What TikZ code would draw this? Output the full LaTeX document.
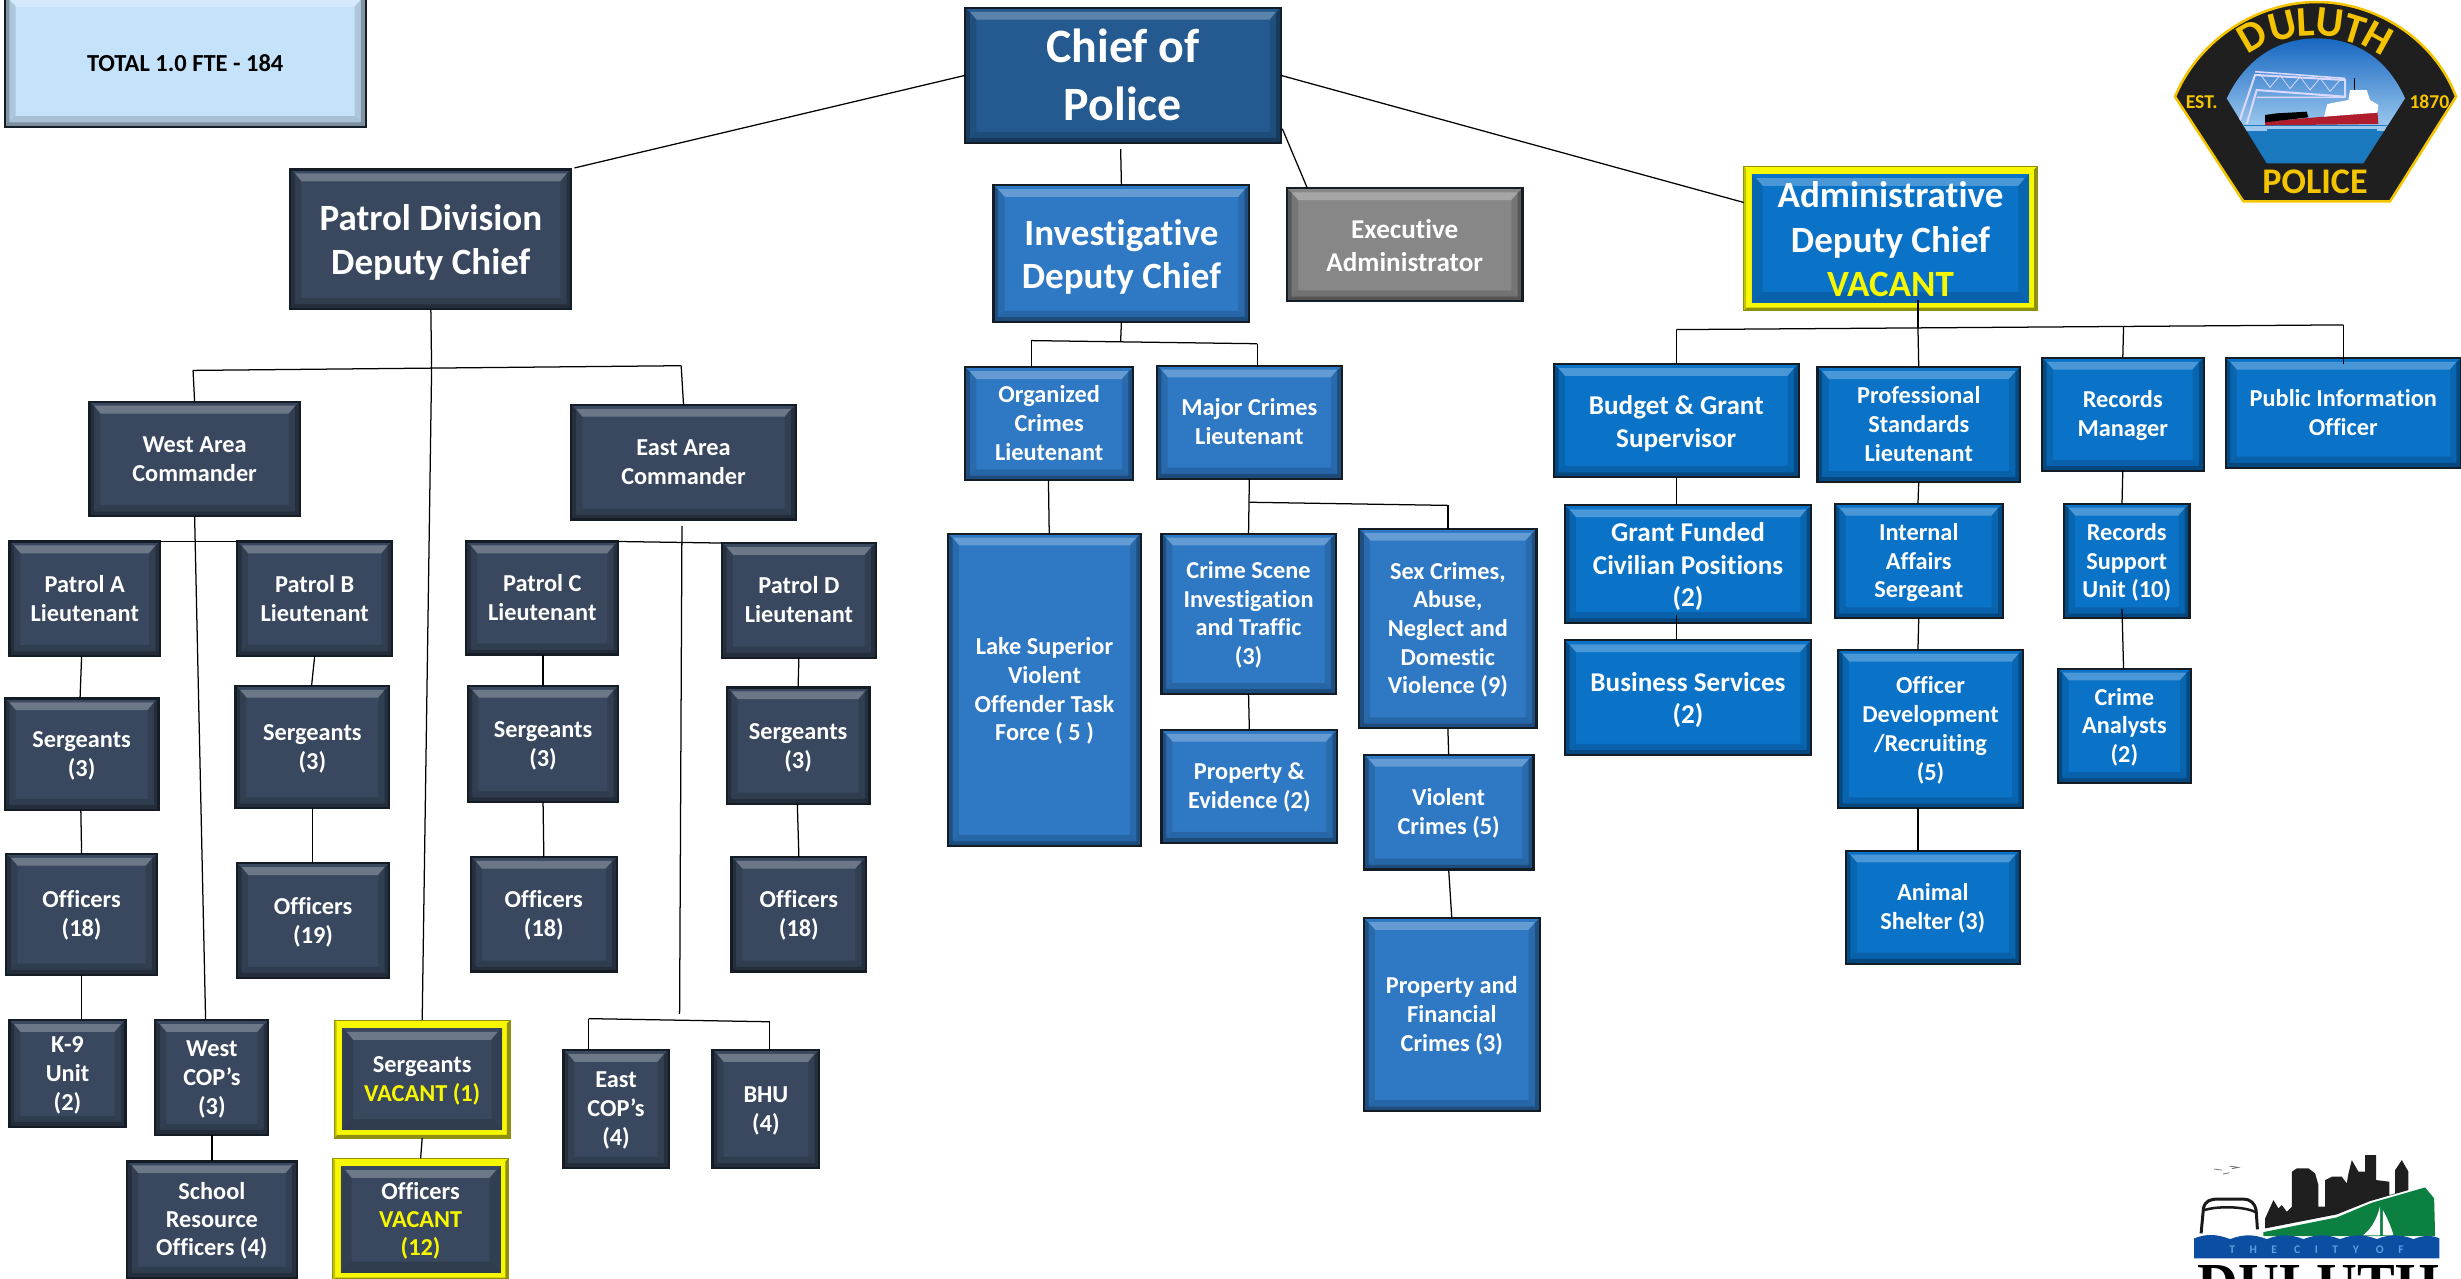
\documentclass[tikz,border=0pt]{standalone}
\usepackage{fontspec}
\setmainfont[Ligatures=CommonOff]{Carlito}
\newfontfamily\logospaced[LetterSpace=125]{Carlito}
\newfontfamily\logoserif{Liberation Serif}
\definecolor{navyfill}{HTML}{39485E}
\definecolor{bluefill}{HTML}{2F79C4}
\definecolor{chieffill}{HTML}{245A8F}
\definecolor{adminfill}{HTML}{0A73C8}
\definecolor{greyfill}{HTML}{878787}
\definecolor{lightfill}{HTML}{C5E2FB}
\definecolor{vacyellow}{HTML}{F7F700}
\definecolor{vacedge}{HTML}{8F8F10}
\definecolor{edgedark}{HTML}{141C26}
\definecolor{badgegold}{HTML}{F5C400}
\definecolor{logoblue}{HTML}{0B4EA2}
\definecolor{logogreen}{HTML}{0B8040}
\definecolor{logotext}{HTML}{5AA0E0}
\definecolor{hullred}{HTML}{B01E2E}
\definecolor{skytop}{HTML}{1565C0}
\definecolor{skylow}{HTML}{9CC8EE}
\definecolor{water}{HTML}{1A78BE}
\def\bvinset{0}
\def\bvtext{white}
\def\bvdrop{1.4}
\tikzset{
  orgbox/.style={rectangle,inner sep=0pt,outer sep=0pt,draw=edgedark,line width=1.4pt,align=center},
  vacframe/.style={draw=vacedge,line width=.8pt},
  navybox/.style={/utils/exec={\colorlet{bvfill}{navyfill}}},
  bluebox/.style={/utils/exec={\colorlet{bvfill}{bluefill}}},
  chiefbox/.style={/utils/exec={\colorlet{bvfill}{chieffill}}},
  adminbox/.style={/utils/exec={\colorlet{bvfill}{adminfill}}},
  greybox/.style={/utils/exec={\colorlet{bvfill}{greyfill}}},
  lightbox/.style={/utils/exec={\colorlet{bvfill}{lightfill}\def\bvtext{black}\def\bvdrop{3}}},
  vacnavy/.style={/utils/exec={\colorlet{bvfill}{navyfill}\def\bvinset{5}}},
  vacblue/.style={/utils/exec={\colorlet{bvfill}{adminfill}\def\bvinset{5}}},
  conn/.style={draw=black,line width=.8pt},
  badgeletter/.style={text=badgegold,inner sep=0pt,font=\fontsize{27}{27}\selectfont\bfseries}
}
\newcommand\vac[1]{\textcolor{vacyellow}{#1}}
% \bx[style]{name}{x1}{y1}{x2}{y2}{size}{leading}{text}
\newcommand\bx[9][navybox]{%
  \begin{scope}
  \tikzset{#1}%
  \ifdim #7pt>20pt \def\bvdrop{3}\fi
  \ifdim #7pt=17.3pt \def\bvdrop{2.2}\fi
  \pgfmathsetmacro\bvw{#5-#3}\pgfmathsetmacro\bvh{#6-#4}%
  \pgfmathsetmacro\bva{\bvinset}\pgfmathsetmacro\bvA{\bvw-\bvinset}\pgfmathsetmacro\bvB{\bvh-\bvinset}%
  \begin{scope}[shift={(#3,#4)}]
    \ifdim\bvinset pt>0pt
      \fill[vacyellow] (0,0) rectangle (\bvw,\bvh);
      \fill[vacedge] (\bvw,0) -- (\bvw-2,2) -- (\bvw-2,\bvh-2) -- (2,\bvh-2) -- (0,\bvh) -- (\bvw,\bvh) -- cycle;
      \fill[vacedge,opacity=.5] (0,0) -- (1.5,1.5) -- (1.5,\bvh-1.5) -- (0,\bvh) -- cycle;
    \fi
    \fill[bvfill] (\bva,\bva) rectangle (\bvA,\bvB);
    \fill[white,opacity=.26] (\bva+3,\bva+2.5) -- (\bvA-3,\bva+2.5) -- (\bvA-7,\bva+7.5) -- (\bva+7,\bva+7.5) -- cycle;
    \fill[black,opacity=.12] (\bva,\bva) -- (\bva+7,\bva+7) -- (\bva+7,\bvB-7) -- (\bva,\bvB) -- cycle;
    \fill[black,opacity=.12] (\bvA,\bva) -- (\bvA-7,\bva+7) -- (\bvA-7,\bvB-7) -- (\bvA,\bvB) -- cycle;
    \fill[black,opacity=.15] (\bva,\bvB) -- (\bvA,\bvB) -- (\bvA-7,\bvB-7) -- (\bva+7,\bvB-7) -- cycle;
    \ifdim\bvinset pt>0pt\else
      \fill[black,opacity=.25] (\bva,\bva) -- (\bva+3,\bva+3) -- (\bva+3,\bvB-3) -- (\bva,\bvB) -- cycle;
      \fill[black,opacity=.25] (\bvA,\bva) -- (\bvA-3,\bva+3) -- (\bvA-3,\bvB-3) -- (\bvA,\bvB) -- cycle;
      \fill[black,opacity=.25] (\bva,\bvB) -- (\bvA,\bvB) -- (\bvA-3,\bvB-3) -- (\bva+3,\bvB-3) -- cycle;
    \fi
  \end{scope}
  \ifdim\bvinset pt>0pt
    \tikzset{boxedge/.style={vacframe}}%
  \else
    \tikzset{boxedge/.style={}}%
  \fi
  \node[orgbox,boxedge,text=\bvtext,minimum width=\bvw pt,minimum height=\bvh pt,
      font={\fontsize{#7}{#8}\selectfont\bfseries}] (#2) at ({(#3+#5)/2},{(#4+#6)/2})
      {\raisebox{-\bvdrop pt}[\height][\depth]{\begin{tabular}{@{}c@{}}#9\end{tabular}}};
  \end{scope}}
\begin{document}
\begin{tikzpicture}[x=1pt,y=-1pt]
\useasboundingbox (0,0) rectangle (1568,814.27);
% ---- boxes
\bx[lightbox]{total}{3}{-3}{233}{81}{15.6}{17}{TOTAL 1.0 FTE - 184}
\bx[chiefbox]{chief}{615}{5}{816}{91}{30.5}{37}{Chief of\\Police}
\bx{patrol}{185}{108}{364}{197}{23.6}{28}{Patrol Division\\Deputy Chief}
\bx[bluebox]{invest}{633}{118}{796}{205}{23.6}{28}{Investigative\\Deputy Chief}
\bx[greybox]{exec}{820}{120}{970}{192}{17.3}{21}{Executive\\Administrator}
\bx[vacblue]{admin}{1111}{106}{1298}{198}{23.6}{28.5}{Administrative\\Deputy Chief\\\vac{VACANT}}
\bx{west}{57}{256}{191}{329}{15.5}{18.5}{West Area\\Commander}
\bx{east}{364}{258}{507}{331}{15.5}{18.5}{East Area\\Commander}
\bx{pa}{6}{345}{102}{418}{15.5}{18.5}{Patrol A\\Lieutenant}
\bx{pb}{151}{345}{250}{418}{15.5}{18.5}{Patrol B\\Lieutenant}
\bx{pc}{297}{345}{394}{417}{15.5}{18.5}{Patrol C\\Lieutenant}
\bx{pd}{460}{346}{558}{419}{15.5}{18.5}{Patrol D\\Lieutenant}
\bx{sa}{3}{445}{101}{516}{15.5}{18.5}{Sergeants\\(3)}
\bx{sb}{150}{437}{248}{515}{15.5}{18.5}{Sergeants\\(3)}
\bx{sc}{298}{437}{394}{511}{15.5}{18.5}{Sergeants\\(3)}
\bx{sd}{463}{438}{554}{512}{15.5}{18.5}{Sergeants\\(3)}
\bx{oa}{4}{544}{100}{621}{15.5}{18.5}{Officers\\(18)}
\bx{ob}{151}{550}{248}{623}{15.5}{18.5}{Officers\\(19)}
\bx{oc}{300}{546}{393}{619}{15.5}{18.5}{Officers\\(18)}
\bx{od}{466}{546}{552}{619}{15.5}{18.5}{Officers\\(18)}
\bx{k9}{6}{650}{80}{718}{15.5}{18.5}{K-9\\Unit\\(2)}
\bx{wcop}{99}{650}{171}{723}{15.5}{18.5}{West\\COP’s\\(3)}
\bx[vacnavy]{sv}{213}{650}{325}{725}{15.5}{18}{Sergeants\\\vac{VACANT (1)}}
\bx[vacnavy]{ov}{212}{738}{324}{816}{15.5}{18}{Officers\\\vac{VACANT}\\\vac{(12)}}
\bx{school}{81}{740}{189}{814}{15.5}{18}{School\\Resource\\Officers (4)}
\bx{ecop}{359}{669}{426}{744}{15.5}{18.5}{East\\COP’s\\(4)}
\bx{bhu}{454}{669}{522}{744}{15.5}{18.5}{BHU\\(4)}
\bx[bluebox]{org}{615}{234}{722}{306}{15.5}{18.5}{Organized\\Crimes\\Lieutenant}
\bx[bluebox]{major}{737}{233}{855}{305}{15.5}{18.5}{Major Crimes\\Lieutenant}
\bx[bluebox]{lake}{604}{340}{727}{539}{15.5}{18.3}{Lake Superior\\Violent\\Offender Task\\Force ( 5 )}
\bx[bluebox]{csi}{740}{340}{851}{442}{15.5}{18.3}{Crime Scene\\Investigation\\and Traffic\\(3)}
\bx[bluebox]{sex}{866}{337}{979}{464}{15.5}{18.3}{Sex Crimes,\\Abuse,\\Neglect and\\Domestic\\Violence (9)}
\bx[bluebox]{prop}{740}{465}{852}{537}{15.5}{18.3}{Property \&\\Evidence (2)}
\bx[bluebox]{vio}{869}{481}{977}{554}{15.5}{18.3}{Violent\\Crimes (5)}
\bx[bluebox]{pfc}{869}{585}{981}{708}{15.5}{18.3}{Property and\\Financial\\Crimes (3)}
\bx[adminbox]{budget}{990}{232}{1146}{304}{17.3}{21}{Budget \& Grant\\Supervisor}
\bx[adminbox]{prof}{1158}{234}{1287}{307}{15.5}{18.3}{Professional\\Standards\\Lieutenant}
\bx[adminbox]{rec}{1301}{228}{1404}{300}{15.5}{18.3}{Records\\Manager}
\bx[adminbox]{pub}{1418}{228}{1568}{298}{15.5}{18.3}{Public Information\\Officer}
\bx[adminbox]{grant}{997}{322}{1154}{397}{17.3}{20.5}{Grant Funded\\Civilian Positions\\(2)}
\bx[adminbox]{biz}{997}{408}{1154}{481}{17.3}{20.5}{Business Services\\(2)}
\bx[adminbox]{ia}{1169}{321}{1276}{394}{15.5}{18.3}{Internal\\Affairs\\Sergeant}
\bx[adminbox]{odr}{1171}{414}{1289}{515}{15.5}{18.3}{Officer\\Development\\/Recruiting\\(5)}
\bx[adminbox]{shelter}{1176}{542}{1287}{614}{15.5}{18.3}{Animal\\Shelter (3)}
\bx[adminbox]{rsu}{1315}{321}{1395}{394}{15.5}{18.3}{Records\\Support\\Unit (10)}
\bx[adminbox]{ca}{1311}{426}{1396}{499}{15.5}{18.3}{Crime\\Analysts\\(2)}
% ---- junctions
\coordinate (jpl) at (123,236);
\coordinate (jpm) at (275,234.5);
\coordinate (jpr) at (434,233);
\coordinate (etop) at (434.5,335);
\coordinate (ebot) at (433,646);
\coordinate (ejl) at (375,649);
\coordinate (ejr) at (490.5,651);
\coordinate (ijm) at (714,217.5);
\coordinate (ijl) at (657,217);
\coordinate (ijr) at (801,219);
\coordinate (mjm) at (796,320);
\coordinate (mjr) at (922.5,322);
\coordinate (ajl) at (1068,210);
\coordinate (ajm) at (1222,209);
\coordinate (ajr) at (1353,208);
\coordinate (ajp) at (1493,207);
\coordinate (ajt) at (1222,191);
\coordinate (ctop) at (714,95);
\coordinate (cexec) at (817,82);
\coordinate (gtop) at (1068,392);
\coordinate (rtop) at (1352,388);
% ---- connectors
\draw[conn] (chief.west |- 0,48) -- ([xshift=2pt,yshift=1pt]patrol.north east);
\draw[conn] (ctop) -- (invest.north);
\draw[conn] (cexec) -- ([xshift=13pt]exec.north west);
\draw[conn] (chief.east |- 0,48) -- (admin.west |- 0,129);
\draw[conn] (patrol.south) -- (jpm);
\draw[conn] (jpl) -- (jpr);
\draw[conn] (jpl) -- (west.north);
\draw[conn] (jpr) -- (east.north);
\draw[conn] (jpm) -- (sv.north);
\draw[conn] (west.south) -- ([xshift=-4pt]wcop.north);
\draw[conn] (pa.north east) -- (pb.north west);
\draw[conn] (pc.north east) -- (pd.north west);
\draw[conn] (etop) -- (ebot);
\draw[conn] (ejl) -- (ejr);
\draw[conn] (ejl) -- ([xshift=-17.5pt]ecop.north);
\draw[conn] (ejr) -- ([xshift=2.5pt]bhu.north);
\draw[conn] ([xshift=-2pt]pa.south) -- ([xshift=-1pt]sa.north);
\draw[conn] ([xshift=-.5pt]sa.south) -- (oa.north);
\draw[conn] (oa.south) -- ([xshift=9pt]k9.north);
\draw[conn] (pb.south) -- ([xshift=-.5pt,yshift=0pt]sb.north);
\draw[conn] (sb.south) -- ([xshift=-.5pt]ob.north);
\draw[conn] ([xshift=.5pt]pc.south) -- (sc.north);
\draw[conn] (sc.south) -- (oc.north);
\draw[conn] (pd.south) -- (sd.north);
\draw[conn] ([xshift=-.5pt]sd.south) -- (od.north);
\draw[conn] (wcop.south) -- (school.north);
\draw[conn] (sv.south) -- (ov.north);
\draw[conn] (invest.south) -- (ijm);
\draw[conn] (ijl) -- (ijr);
\draw[conn] (ijl) -- ([xshift=-11.5pt]org.north);
\draw[conn] (ijr) -- ([xshift=5pt]major.north);
\draw[conn] ([xshift=-.5pt]org.south) -- ([xshift=3pt]lake.north);
\draw[conn] (major.south) -- (csi.north);
\draw[conn] (mjm) -- (mjr);
\draw[conn] (mjr) -- (sex.north);
\draw[conn] (csi.south) -- (prop.north);
\draw[conn] (sex.south) -- (vio.north);
\draw[conn] (vio.south) -- (pfc.north);
\draw[conn] (ajt) -- (ajm);
\draw[conn] (ajl) -- (ajp);
\draw[conn] (ajl) -- (budget.north);
\draw[conn] (ajm) -- (prof.north);
\draw[conn] (ajr) -- (rec.north);
\draw[conn] (ajp) -- ([yshift=-4pt]pub.north);
\draw[conn] (budget.south) -- ([xshift=-7.5pt]grant.north);
\draw[conn] (gtop) -- ([xshift=-7.5pt]biz.north);
\draw[conn] (prof.south) -- ([xshift=-.5pt]ia.north);
\draw[conn] (ia.south) -- ([xshift=-8pt]odr.north);
\draw[conn] ([xshift=-8pt]odr.south) -- ([xshift=-9.5pt]shelter.north);
\draw[conn] (rec.south) -- ([xshift=-3pt]rsu.north);
\draw[conn] (rtop) -- ([xshift=-.5pt]ca.north);
% ---- police badge (coordinates of a 3x crop from x=2100 full px)
\begin{scope}[shift={(1338,0)},x=.2124pt,y=-.2124pt]
  \filldraw[fill=black!88,draw=badgegold,line width=1.6pt,line join=round]
    (225,290) .. controls (300,110) and (480,6) .. (650,6)
    .. controls (820,6) and (1000,110) .. (1068,290)
    -- (870,604) -- (430,604) -- cycle;
  \begin{scope}
    \clip (380,295) .. controls (440,170) and (540,115) .. (650,115)
      .. controls (760,115) and (860,170) .. (915,295) -- (790,490) -- (500,490) -- cycle;
    \shade[top color=skytop,bottom color=skylow] (370,110) rectangle (925,380);
    \fill[water] (370,376) rectangle (925,495);
    \fill[skylow] (430,378) rectangle (860,394);
    \fill[water] (500,388) rectangle (830,398);
    % lift bridge
    \draw[white!85!blue,line width=1.3pt] (415,372) -- (465,225) -- (735,240) -- (735,290) -- (470,270) -- (440,372);
    \draw[white!85!blue,line width=1pt] (465,215) -- (735,235) (470,292) -- (735,292);
    \draw[white!85!blue,line width=.5pt] (480,222) -- (510,262) -- (540,226) -- (570,266) -- (600,230) -- (630,270) -- (660,234) -- (690,274) -- (720,240);
    % ship
    \fill[hullred] (495,376) -- (835,372) -- (832,335) -- (670,350) -- (495,365) -- cycle;
    \fill[white] (672,350) -- (682,312) -- (745,300) -- (750,270) -- (800,270) -- (810,300) -- (835,315) -- (832,338) -- cycle;
    \fill[black] (495,345) -- (530,340) -- (620,335) -- (625,352) -- (495,367) -- cycle;
    \draw[black,line width=.8pt] (763,235) -- (763,270);
  \end{scope}
  \node[badgeletter,rotate=30] (bd1) at (456,108) {D};
  \node[badgeletter,rotate=14] (bd2) at (547,77) {U};
  \node[badgeletter,rotate=3] (bd3) at (617,66) {L};
  \node[badgeletter,rotate=-7] (bd4) at (688,68) {U};
  \node[badgeletter,rotate=-17] (bd5) at (762,88) {T};
  \node[badgeletter,rotate=-29] (bd6) at (832,115) {H};
  \node[text=badgegold,inner sep=0pt,font=\fontsize{23}{23}\selectfont\bfseries] (bpol) at (645,546) {POLICE};
  \node[text=badgegold,inner sep=0pt,font=\fontsize{12.5}{14}\selectfont\bfseries] (best) at (305,306) {EST.};
  \node[text=badgegold,inner sep=0pt,font=\fontsize{12.5}{14}\selectfont\bfseries] (byr) at (988,306) {1870};
\end{scope}
% ---- city logo (coordinates of a 3x crop from x=2150, y=1130 full px)
\begin{scope}[shift={(1369.9,720)},x=.2124pt,y=-.2124pt]
  \draw[black!55,line width=.5pt] (192,117) -- (215,120) (238,108) -- (265,112) -- (245,116) (218,132) -- (238,128);
  \draw[black!90,line width=1.9pt,line join=round] (153,310) -- (160,235) .. controls (165,212) and (180,207) .. (205,207) -- (280,207) .. controls (300,207) and (315,220) .. (318,240) -- (322,298);
  \draw[black!90,line width=1.6pt] (163,240) .. controls (200,228) and (280,228) .. (316,246);
  \fill[black!88] (345,295) -- (345,265) -- (370,210) -- (385,235) -- (395,225) -- (410,245) -- (425,230) -- (425,125) -- (440,115) -- (475,115) -- (495,130) -- (505,165) -- (505,230) -- (525,230) -- (525,150) -- (545,140) -- (575,140) -- (590,160) -- (595,130) -- (605,90) -- (625,125) -- (645,125) -- (645,75) -- (678,75) -- (678,150) -- (718,155) -- (718,195) -- (735,190) -- (735,120) -- (755,90) -- (775,125) -- (775,180) -- (660,213) -- (560,253) -- cycle;
  \fill[logogreen] (340,306) -- (560,262) -- (665,218) -- (825,172) -- (852,205) -- (855,318) -- (340,318) -- cycle;
  \fill[white] (690,228) .. controls (680,270) and (660,300) .. (638,316) -- (690,316) -- cycle;
  \fill[white] (698,240) .. controls (712,265) and (725,295) .. (730,316) -- (698,316) -- cycle;
  \fill[logoblue] (132,325) .. controls (170,310) and (200,312) .. (240,327) .. controls (280,312) and (310,312) .. (350,327) .. controls (390,312) and (420,312) .. (460,327) .. controls (500,312) and (530,312) .. (570,327) .. controls (610,312) and (640,312) .. (680,327) .. controls (720,312) and (750,312) .. (790,327) .. controls (820,315) and (845,315) .. (868,325) -- (868,385) -- (132,385) -- cycle;
  \node[text=logotext,inner sep=0pt,font=\logospaced\fontsize{7.4}{8}\selectfont\bfseries] (cityof) at (499,358) {THE CITY OF};
  \node[text=black,inner sep=0pt,anchor=base,font=\logoserif\fontsize{36}{36}\selectfont\bfseries] (cityname) at (505,518) {DULUTH};
\end{scope}
\end{tikzpicture}
\end{document}
